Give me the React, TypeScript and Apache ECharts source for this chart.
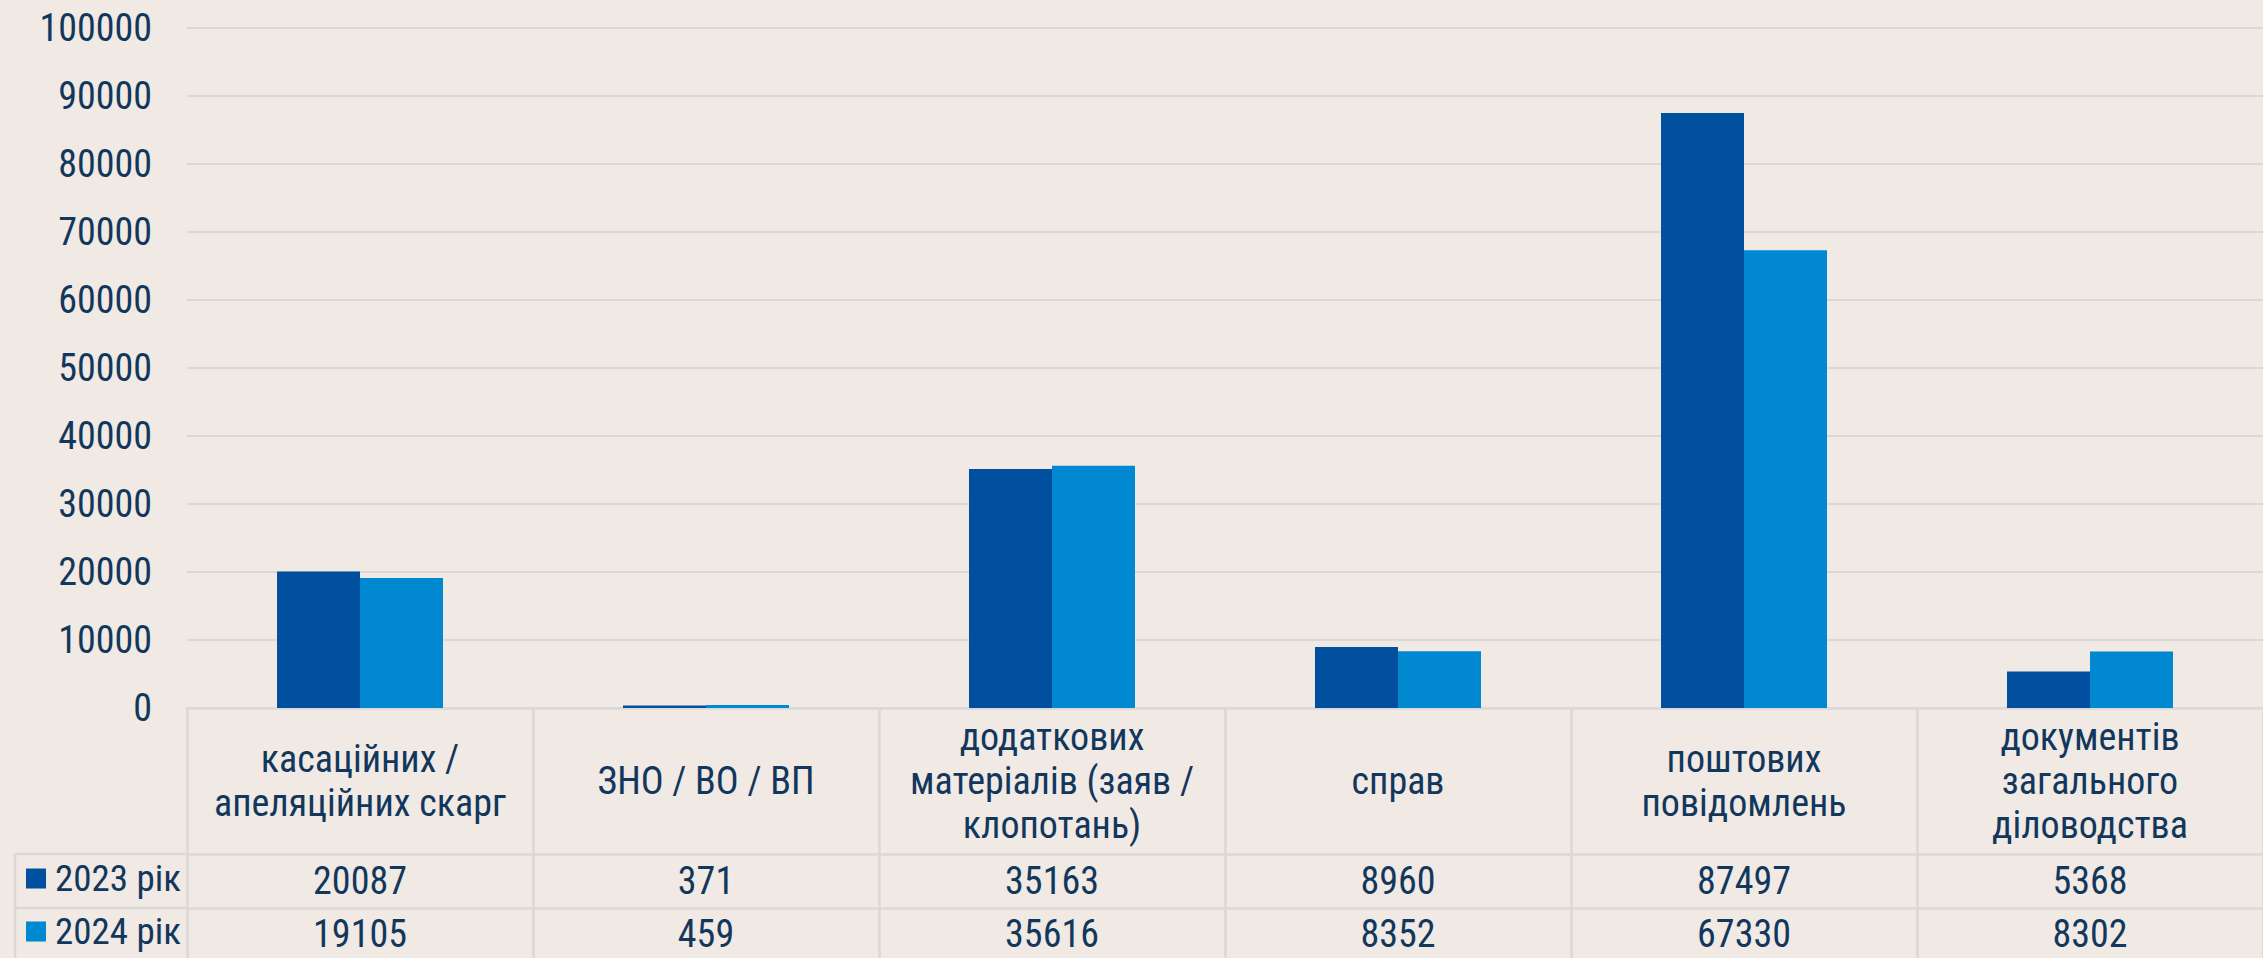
import React, { useEffect, useRef } from "react";
import * as echarts from "echarts";

const categories = [
  "касаційних /\nапеляційних скарг",
  "ЗНО / ВО / ВП",
  "додаткових\nматеріалів (заяв /\nклопотань)",
  "справ",
  "поштових\nповідомлень",
  "документів\nзагального\nділоводства",
];
const seriesNames = ["2023 рік", "2024 рік"];
const values2023 = [20087, 371, 35163, 8960, 87497, 5368];
const values2024 = [19105, 459, 35616, 8352, 67330, 8302];
const yMin = 0;
const yMax = 100000;
const yInterval = 10000;

const FONT = "'Liberation Sans Narrow', 'Roboto Condensed', 'DejaVu Sans Condensed', Roboto, sans-serif";
const TEXT = "#12375c";
const LINE = "#d9d9d9";
const C2023 = "#00509f";
const C2024 = "#0088d1";

export default function App() {
  const ref = useRef<HTMLDivElement>(null);
  useEffect(() => {
    if (!ref.current) return;
    const chart = echarts.init(ref.current, undefined, { renderer: "svg" });
    const baseX = {
      type: "category" as const,
      data: categories,
      gridIndex: 0,
      position: "bottom" as const,
      axisLine: { show: true, lineStyle: { color: LINE, width: 2.5 } },
      splitLine: { show: false },
    };
    const legendBase = {
      orient: "horizontal" as const,
      left: 26,
      height: 80,
      itemWidth: 20,
      itemHeight: 20,
      icon: "rect",
      padding: 0,
      textStyle: { fontFamily: FONT, fontSize: 37, color: TEXT, padding: [0, 0, 0, 4] },
    };
    chart.setOption({
      animation: false,
      backgroundColor: "#f0e9e4",
      textStyle: { fontFamily: FONT },
      grid: { left: 187, width: 2083, top: 28, height: 680, containLabel: false },
      legend: [
        { ...legendBase, data: [seriesNames[0]], top: 860 },
        { ...legendBase, data: [seriesNames[1]], top: 913 },
      ],
      xAxis: [
        {
          ...baseX,
          axisTick: { show: true, length: 146, alignWithLabel: false, lineStyle: { color: LINE, width: 2.5 } },
          axisLabel: {
            interval: 0,
            margin: 73,
            verticalAlign: "middle",
            fontFamily: FONT,
            fontSize: 38,
            lineHeight: 44,
            color: TEXT,
          },
        },
        {
          ...baseX,
          offset: 146,
          axisTick: { show: true, length: 54, alignWithLabel: false, lineStyle: { color: LINE, width: 2.5 } },
          axisLabel: {
            interval: 0,
            margin: 27,
            verticalAlign: "middle",
            fontFamily: FONT,
            fontSize: 38,
            color: TEXT,
            formatter: (_v: string, i: number) => String(values2023[i]),
          },
        },
        {
          ...baseX,
          offset: 200,
          axisTick: { show: true, length: 60, alignWithLabel: false, lineStyle: { color: LINE, width: 2.5 } },
          axisLabel: {
            interval: 0,
            margin: 26,
            verticalAlign: "middle",
            fontFamily: FONT,
            fontSize: 38,
            color: TEXT,
            formatter: (_v: string, i: number) => String(values2024[i]),
          },
        },
      ],
      yAxis: {
        type: "value",
        min: yMin,
        max: yMax,
        interval: yInterval,
        axisLine: { show: false },
        axisTick: { show: false },
        splitLine: { show: true, lineStyle: { color: LINE, width: 2 } },
        axisLabel: {
          margin: 35,
          fontFamily: FONT,
          fontSize: 38,
          color: TEXT,
          formatter: (v: number) => String(v),
        },
      },
      graphic: [
        { type: "line", shape: { x1: 15, y1: 854, x2: 187, y2: 854 }, style: { stroke: LINE, lineWidth: 2.5 } },
        { type: "line", shape: { x1: 15, y1: 908, x2: 187, y2: 908 }, style: { stroke: LINE, lineWidth: 2.5 } },
        { type: "line", shape: { x1: 15, y1: 854, x2: 15, y2: 958 }, style: { stroke: LINE, lineWidth: 2.5 } },
      ],
      series: [
        {
          name: seriesNames[0],
          type: "bar",
          xAxisIndex: 0,
          data: values2023,
          barWidth: 83,
          barGap: "0%",
          itemStyle: { color: C2023 },
        },
        {
          name: seriesNames[1],
          type: "bar",
          xAxisIndex: 0,
          data: values2024,
          barWidth: 83,
          barGap: "0%",
          itemStyle: { color: C2024 },
        },
      ],
    });
    return () => chart.dispose();
  }, []);
  return (
    <div
      ref={ref}
      style={{ position: "fixed", left: 0, top: 0, width: 2263, height: 958 }}
    />
  );
}
